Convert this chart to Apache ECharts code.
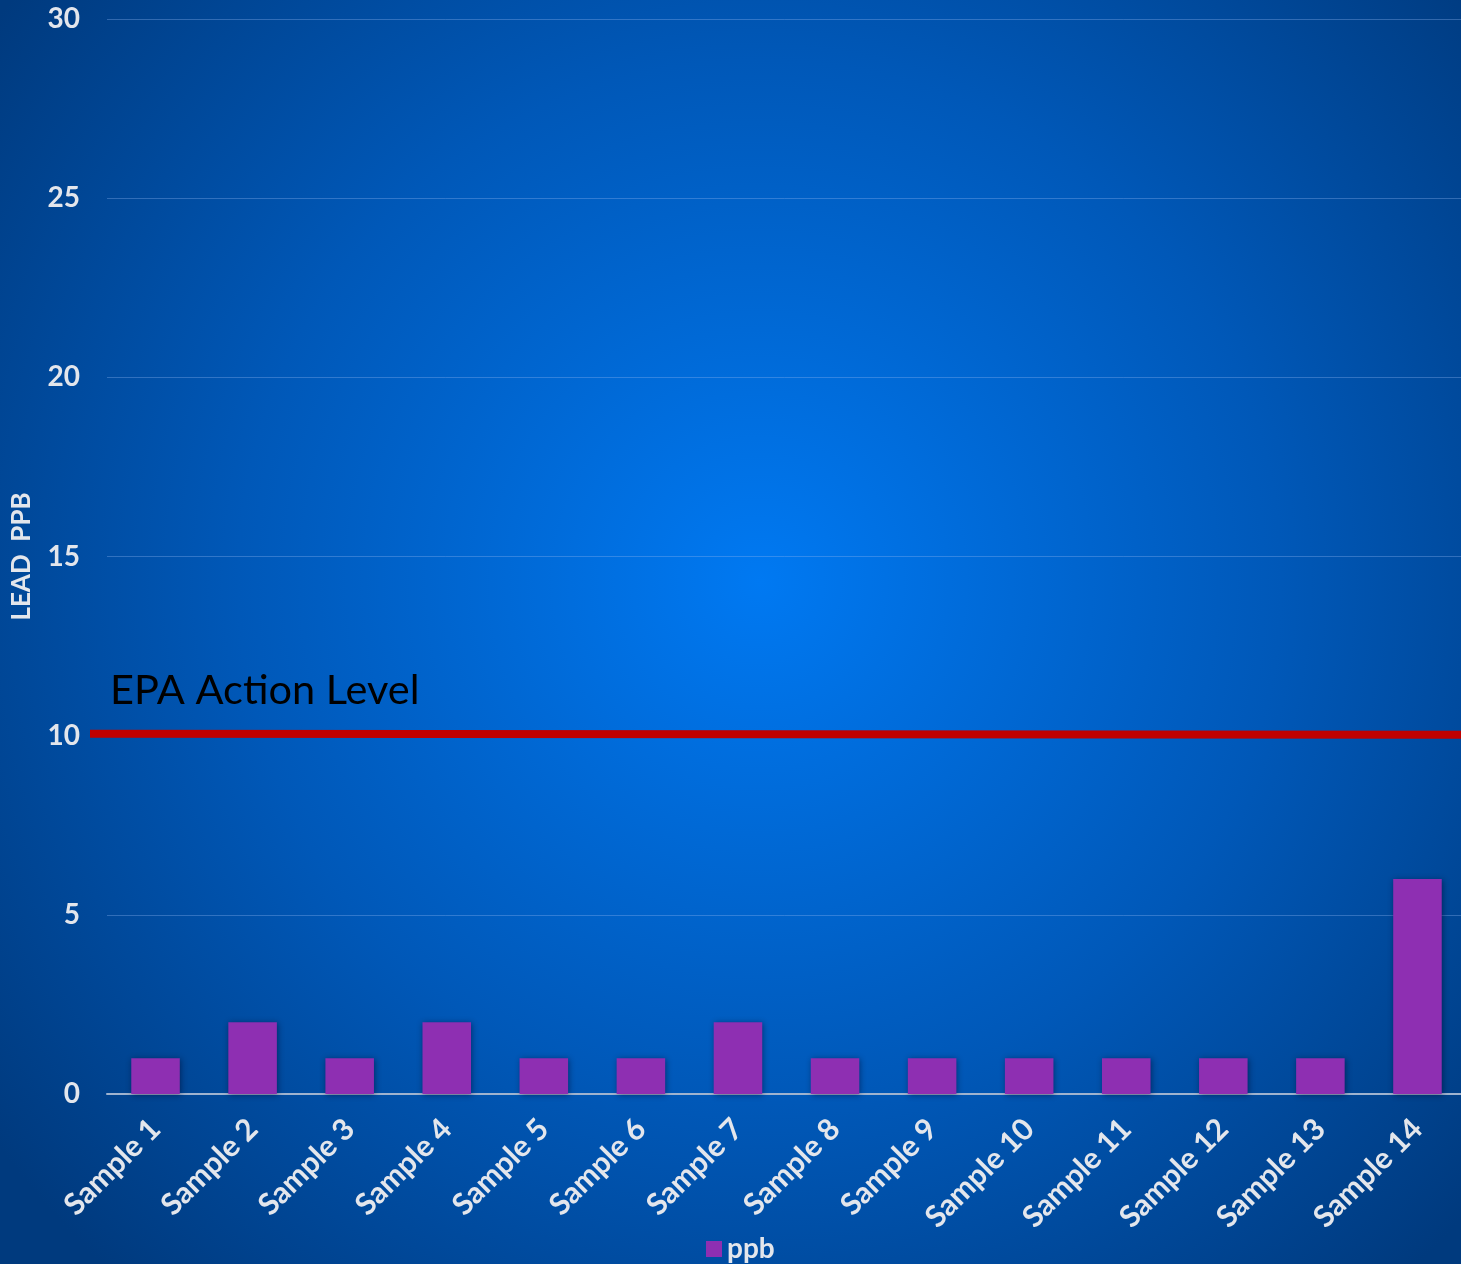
<!DOCTYPE html>
<html>
<head>
<meta charset="utf-8">
<script src="https://cdn.jsdelivr.net/npm/echarts@6/dist/echarts.min.js"></script>
<style>
html,body{margin:0;padding:0;}
#chart{width:1461px;height:1264px;}
</style>
</head>
<body>
<div id="chart"></div>
<script>
const categories = ['Sample 1','Sample 2','Sample 3','Sample 4','Sample 5','Sample 6','Sample 7','Sample 8','Sample 9','Sample 10','Sample 11','Sample 12','Sample 13','Sample 14'];
const ppbValues = [1,2,1,2,1,1,2,1,1,1,1,1,1,6];
const actionLevel = 10;
const actionLabel = 'EPA Action Level';
const seriesName = 'ppb';
const yAxisName = 'LEAD  PPB';

const chart = echarts.init(document.getElementById('chart'));
const labelColor = '#e3e6ec';
const fontFam = 'Lato, "Noto Sans", sans-serif';

chart.setOption({
  backgroundColor: {
    type: 'radial', x: 0.52, y: 0.46, r: 0.75,
    colorStops: [
      {offset: 0, color: '#0079f2'},
      {offset: 0.55, color: '#0058b8'},
      {offset: 1, color: '#003a7e'}
    ]
  },
  animation: false,
  grid: {left: 107, right: -5, top: 19, bottom: 170, containLabel: false, outerBoundsMode: 'none'},
  legend: {
    bottom: -4, left: 701,
    icon: 'rect', itemWidth: 16, itemHeight: 16, itemGap: 7,
    textStyle: {color: labelColor, fontSize: 28, fontWeight: 'bold', fontFamily: fontFam},
    data: [seriesName]
  },
  xAxis: {
    type: 'category',
    data: categories,
    axisTick: {show: false},
    axisLine: {lineStyle: {color: '#9fb3cf', width: 2}},
    axisLabel: {
      rotate: 45, interval: 0, margin: 30,
      color: labelColor, fontSize: 30, fontWeight: 'bold', fontFamily: fontFam
    }
  },
  yAxis: {
    type: 'value', min: 0, max: 30, interval: 5,
    name: yAxisName, nameLocation: 'middle', nameGap: 72, nameRotate: 90,
    nameTextStyle: {color: labelColor, fontSize: 26, fontWeight: 'bold', fontFamily: fontFam},
    axisLine: {show: false}, axisTick: {show: false},
    axisLabel: {color: labelColor, fontSize: 28, fontWeight: 'bold', fontFamily: fontFam, margin: 27},
    splitLine: {lineStyle: {color: 'rgba(140,180,240,0.35)', width: 1}}
  },
  series: [{
    name: seriesName,
    type: 'bar',
    data: ppbValues,
    barWidth: '50%',
    itemStyle: {
      color: '#8e2fb2',
      shadowColor: 'rgba(0,0,30,0.45)', shadowBlur: 6, shadowOffsetX: 1, shadowOffsetY: 1
    }
  }]
});

const yPix = chart.convertToPixel({yAxisIndex: 0}, actionLevel);
chart.setOption({
  graphic: [
    {
      type: 'line', z: 10,
      shape: {x1: 90, y1: yPix - 2, x2: chart.getWidth(), y2: yPix - 1},
      style: {stroke: '#c00000', lineWidth: 8}
    },
    {
      type: 'text', z: 10, left: 110, top: yPix - 66,
      style: {text: actionLabel, fill: '#000000', fontSize: 41.5, fontFamily: fontFam}
    }
  ]
});
</script>
</body>
</html>
